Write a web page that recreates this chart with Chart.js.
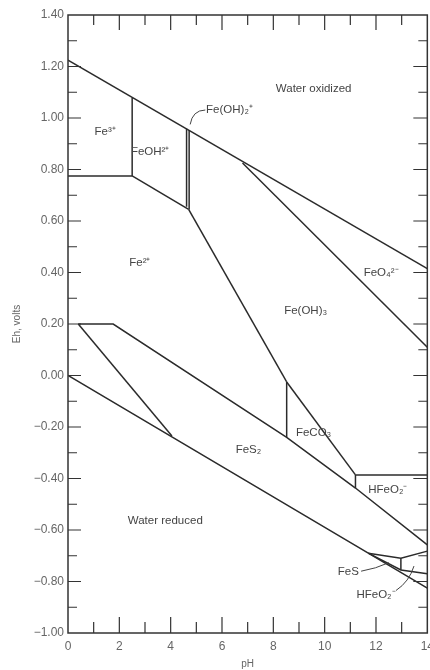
<!DOCTYPE html>
<html>
<head>
<meta charset="utf-8">
<script src="https://cdn.jsdelivr.net/npm/chart.js@4"></script>
<style>
  html, body { margin: 0; padding: 0; background: #fff; overflow: hidden; }
  #wrap { width: 440px; height: 670px; }
</style>
</head>
<body>
<div id="wrap"><canvas id="pourbaix"></canvas></div>
<script>
/* Eh-pH diagram for iron - boundaries as [pH, Eh] */

const waterOxidized = [[0, 1.225], [14, 0.415]];
const waterReduced = [[0, 0.0], [11.7, -0.69], [14, -0.826]];
const fe3Fe2 = [[0, 0.775], [2.5, 0.775]];
const fe3FeOH = [[2.5, 0.775], [2.5, 1.078]];
const feOHFe2 = [[2.5, 0.775], [4.7, 0.645]];
const feOH2Left = [[4.62, 0.655], [4.62, 0.958]];
const feOH2Right = [[4.72, 0.645], [4.72, 0.952]];
const feOH3Fe2 = [[4.7, 0.645], [8.52, -0.025]];
const feOH3FeCO3 = [[8.52, -0.025], [11.2, -0.386]];
const feO4Boundary = [[6.8, 0.825], [14, 0.11]];
const feCO3Fe2 = [[8.52, -0.025], [8.52, -0.24]];
const hfeo2Top = [[11.2, -0.386], [14, -0.386]];
const hfeo2Left = [[11.2, -0.386], [11.2, -0.437]];
const fes2Top = [[0.4, 0.2], [1.76, 0.2], [8.52, -0.24], [11.2, -0.437], [14, -0.658]];
const fes2Left = [[0.4, 0.2], [4.05, -0.235]];
const fesTop = [[11.7, -0.69], [12.97, -0.71], [14, -0.682]];
const fesVertical = [[12.97, -0.71], [12.97, -0.755]];
const fesLower = [[11.7, -0.69], [12.97, -0.755], [14, -0.77]];

const boundaries = [
    waterOxidized, waterReduced, fe3Fe2, fe3FeOH, feOHFe2, feOH2Left, feOH2Right,
    feOH3Fe2, feOH3FeCO3, feO4Boundary, feCO3Fe2, hfeo2Top, hfeo2Left,
    fes2Top, fes2Left, fesTop, fesVertical, fesLower
];

// region names: [text, pH, Eh, align]
const regionLabels = [
    ['Water oxidized', 9.57, 1.113, 'center'],
    ['Fe\u00B3\u207A', 1.45, 0.946, 'center'],
    ['FeOH\u00B2\u207A', 3.2, 0.868, 'center'],
    ['Fe(OH)\u2082\u207A', 5.38, 1.03, 'left'],
    ['Fe\u00B2\u207A', 2.8, 0.437, 'center'],
    ['FeO\u2084\u00B2\u207B', 12.2, 0.40, 'center'],
    ['Fe(OH)\u2083', 9.26, 0.25, 'center'],
    ['FeCO\u2083', 9.57, -0.223, 'center'],
    ['FeS\u2082', 7.03, -0.29, 'center'],
    ['HFeO\u2082\u207B', 12.46, -0.445, 'center'],
    ['Water reduced', 3.79, -0.565, 'center'],
    ['FeS', 11.33, -0.763, 'right'],
    ['HFeO\u2082\u207B', 12.0, -0.852, 'center']
];

// leader curves: start, control, end as [pH, Eh]
const leaders = [
    [[5.35, 1.031], [4.85, 1.03], [4.76, 0.975]],
    [[11.42, -0.76], [12.0, -0.75], [12.5, -0.727]],
    [[12.78, -0.835], [13.3, -0.8], [13.48, -0.74]]
];

const xTickLabels = [0, 2, 4, 6, 8, 10, 12, 14];

const inkColor = '#2b2b2b';
Chart.defaults.font.family = "'Liberation Sans', Arial, sans-serif";

// frame with inward ticks on all four sides
const framePlugin = {
    id: 'frame',
    afterDraw(chart) {
        const ctx = chart.ctx;
        const xs = chart.scales.x, ys = chart.scales.y;
        const a = chart.chartArea;
        ctx.save();
        ctx.strokeStyle = '#333';
        ctx.lineWidth = 1.5;
        ctx.strokeRect(a.left, a.top, a.right - a.left, a.bottom - a.top);
        ctx.lineWidth = 1.2;
        ctx.beginPath();
        for (let p = 1; p < 14; p++) {
            const px = xs.getPixelForValue(p);
            const major = p % 2 === 0;
            ctx.moveTo(px, a.bottom);
            ctx.lineTo(px, a.bottom - (major ? 16 : 11));
            ctx.moveTo(px, a.top);
            ctx.lineTo(px, a.top + (major ? 15 : 10));
        }
        for (let i = -9; i <= 13; i++) {
            const py = ys.getPixelForValue(i / 10);
            const major = i % 2 === 0;
            ctx.moveTo(a.left, py);
            ctx.lineTo(a.left + (major ? 13 : 9), py);
            ctx.moveTo(a.right, py);
            ctx.lineTo(a.right - (major ? 14 : 9), py);
        }
        ctx.stroke();
        ctx.restore();
    }
};

const labelPlugin = {
    id: 'regionLabels',
    afterDatasetsDraw(chart) {
        const ctx = chart.ctx;
        const xs = chart.scales.x, ys = chart.scales.y;
        ctx.save();
        ctx.fillStyle = '#444';
        ctx.font = "11.5px 'Liberation Sans', Arial, sans-serif";
        ctx.textBaseline = 'middle';
        regionLabels.forEach(function(l) {
            ctx.textAlign = l[3];
            ctx.fillText(l[0], xs.getPixelForValue(l[1]), ys.getPixelForValue(l[2]));
        });
        ctx.strokeStyle = '#444';
        ctx.lineWidth = 1;
        leaders.forEach(function(c) {
            ctx.beginPath();
            ctx.moveTo(xs.getPixelForValue(c[0][0]), ys.getPixelForValue(c[0][1]));
            ctx.quadraticCurveTo(xs.getPixelForValue(c[1][0]), ys.getPixelForValue(c[1][1]),
                xs.getPixelForValue(c[2][0]), ys.getPixelForValue(c[2][1]));
            ctx.stroke();
        });
        ctx.restore();
    }
};

new Chart(document.getElementById('pourbaix'), {
    type: 'scatter',
    data: {
        datasets: boundaries.map(function(line) {
            return {
                data: line.map(function(p) { return { x: p[0], y: p[1] }; }),
                showLine: true,
                borderColor: inkColor,
                borderWidth: 1.5,
                pointRadius: 0,
                tension: 0
            };
        })
    },
    options: {
        responsive: true,
        maintainAspectRatio: false,
        animation: false,
        layout: { padding: { top: 15, right: 0, left: 0, bottom: 0 } },
        plugins: {
            legend: { display: false },
            tooltip: { enabled: false }
        },
        scales: {
            x: {
                type: 'linear',
                min: 0,
                max: 14,
                grid: { display: false, drawTicks: false },
                border: { display: false },
                afterBuildTicks: function(scale) {
                    scale.ticks = xTickLabels.map(function(v) { return { value: v }; });
                },
                afterFit: function(scale) { scale.height = 37; },
                ticks: {
                    color: '#666',
                    font: { size: 12 },
                    padding: 6,
                    maxRotation: 0,
                    autoSkip: false
                },
                title: {
                    display: true,
                    text: 'pH',
                    color: '#666',
                    font: { size: 10 },
                    padding: { top: 0, bottom: 0 }
                }
            },
            y: {
                type: 'linear',
                min: -1,
                max: 1.4,
                grid: { display: false, drawTicks: false },
                border: { display: false },
                afterFit: function(scale) { scale.width = 68; },
                ticks: {
                    stepSize: 0.2,
                    color: '#666',
                    font: { size: 12 },
                    padding: 4,
                    callback: function(v) {
                        const s = Math.abs(v).toFixed(2);
                        return v < -0.001 ? '\u2212' + s : s;
                    }
                },
                title: {
                    display: true,
                    text: 'Eh, volts',
                    color: '#666',
                    font: { size: 10 },
                    padding: { top: 11, bottom: 0 }
                }
            }
        }
    },
    plugins: [framePlugin, labelPlugin]
});
</script>
</body>
</html>
